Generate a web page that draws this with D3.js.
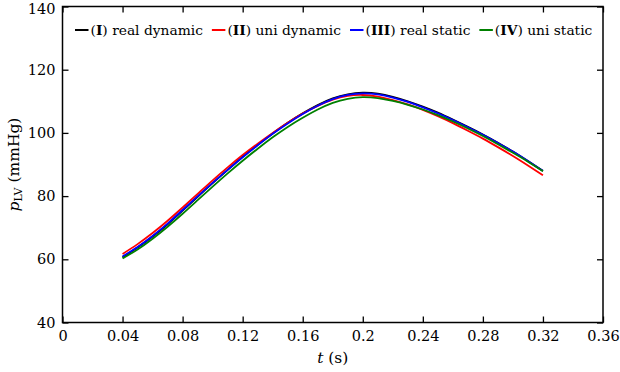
<!DOCTYPE html>
<html>
<head>
<meta charset="utf-8">
<script src="https://cdn.jsdelivr.net/npm/d3@7"></script>
<style>
  body { margin: 0; background: #fff; }
  svg { display: block; }
  text { font-family: "DejaVu Serif", serif; fill: #000; }
</style>
</head>
<body>
<svg id="chart" width="620" height="372"></svg>
<script>
// time samples (s)
const time = [0.04, 0.05, 0.06, 0.07, 0.08, 0.09, 0.10, 0.11, 0.12, 0.13, 0.14, 0.15, 0.16, 0.17, 0.18,
              0.19, 0.20, 0.21, 0.22, 0.23, 0.24, 0.25, 0.26, 0.27, 0.28, 0.29, 0.30, 0.31, 0.32];

// LV pressure (mmHg)
const realDynamic = [60.6, 63.7, 67.2, 71.1, 75.4, 79.8, 84.1, 88.3, 92.4, 96.2, 99.8, 103.2, 106.2, 108.8, 110.9,
                     112.2, 112.7, 112.4, 111.4, 110.0, 108.3, 106.4, 104.2, 101.9, 99.5, 96.9, 94.1, 91.1, 88.0];
const uniDynamic  = [61.7, 64.8, 68.3, 72.2, 76.4, 80.7, 85.0, 89.1, 93.0, 96.6, 100.0, 103.2, 106.1, 108.5, 110.5,
                     111.7, 112.0, 111.5, 110.4, 109.0, 107.3, 105.3, 103.1, 100.7, 98.2, 95.5, 92.7, 89.7, 86.6];
const realStatic  = [60.9, 63.9, 67.4, 71.3, 75.6, 79.9, 84.2, 88.3, 92.3, 96.1, 99.7, 103.0, 106.0, 108.6, 110.7,
                     112.0, 112.5, 112.2, 111.2, 109.8, 108.1, 106.2, 104.1, 101.8, 99.4, 96.8, 94.1, 91.1, 88.0];
const uniStatic   = [60.3, 63.1, 66.5, 70.3, 74.4, 78.7, 83.0, 87.2, 91.2, 95.0, 98.6, 101.9, 104.8, 107.4, 109.5,
                     110.8, 111.3, 111.0, 110.1, 108.9, 107.4, 105.6, 103.6, 101.4, 99.0, 96.4, 93.7, 90.9, 87.9];

const seriesNames = ['I', 'II', 'III', 'IV'];
const seriesLabels = [' real dynamic', ' uni dynamic', ' real static', ' uni static'];
const seriesColors = ['#000000', '#ff0000', '#0000ff', '#008000'];
const seriesValues = [realDynamic, uniDynamic, realStatic, uniStatic];

const xTicks = [0, 0.04, 0.08, 0.12, 0.16, 0.2, 0.24, 0.28, 0.32, 0.36];
const xTickLabels = ['0', '0.04', '0.08', '0.12', '0.16', '0.2', '0.24', '0.28', '0.32', '0.36'];
const yTicks = [40, 60, 80, 100, 120, 140];

const svg = d3.select('#chart');
const margin = { left: 62.5, right: 17, top: 6.5, bottom: 49.5 };
const width = 620 - margin.left - margin.right;
const height = 372 - margin.top - margin.bottom;

const x = d3.scaleLinear().domain([0, 0.36]).range([0, width]);
const y = d3.scaleLinear().domain([40, 140]).range([height, 0]);

const g = svg.append('g').attr('transform', `translate(${margin.left},${margin.top})`);

// axes, ticks pointing inward on all four sides
const tickLen = 6;
const xAxis = g.append('g').attr('transform', `translate(0,${height})`)
    .call(d3.axisBottom(x).tickValues(xTicks).tickFormat((d, i) => xTickLabels[i])
        .tickSizeInner(-tickLen).tickSizeOuter(0).tickPadding(8));
const xTop = g.append('g')
    .call(d3.axisTop(x).tickValues(xTicks).tickFormat('').tickSizeInner(-tickLen).tickSizeOuter(0));
const yAxis = g.append('g')
    .call(d3.axisLeft(y).tickValues(yTicks).tickSizeInner(-tickLen).tickSizeOuter(0).tickPadding(7));
const yRight = g.append('g').attr('transform', `translate(${width},0)`)
    .call(d3.axisRight(y).tickValues(yTicks).tickFormat('').tickSizeInner(-tickLen).tickSizeOuter(0));

[xAxis, xTop, yAxis, yRight].forEach(a => {
    a.select('.domain').remove();
    a.selectAll('.tick line').attr('stroke', '#000').attr('stroke-width', 1.3);
    a.selectAll('text').style('font-family', '"DejaVu Serif", serif').style('font-size', '14.5px').attr('fill', '#000');
});
// keep the top label inside the page
yAxis.selectAll('.tick text').filter(d => d === 140).attr('dy', '0.45em');

// lines
const line = d3.line()
    .x((d, i) => x(time[i]))
    .y(d => y(d))
    .curve(d3.curveNatural);

seriesValues.forEach((vals, k) => {
    g.append('path')
        .datum(vals)
        .attr('fill', 'none')
        .attr('stroke', seriesColors[k])
        .attr('stroke-width', 1.8)
        .attr('d', line);
});

// frame
g.append('rect')
    .attr('width', width).attr('height', height)
    .attr('fill', 'none').attr('stroke', '#000').attr('stroke-width', 1.5);

// legend
const legend = g.append('g').attr('transform', 'translate(0,23.5)');
let lx = 12.5;
seriesNames.forEach((name, k) => {
    legend.append('line')
        .attr('x1', lx).attr('x2', lx + 13.5)
        .attr('y1', 0).attr('y2', 0)
        .attr('stroke', seriesColors[k]).attr('stroke-width', 2);
    const t = legend.append('text')
        .attr('x', lx + 15.5).attr('y', 0).attr('dy', '0.35em')
        .style('font-size', '13.8px');
    t.append('tspan').text('(');
    t.append('tspan').attr('font-weight', 'bold').text(name);
    t.append('tspan').text(')' + seriesLabels[k]);
    lx += 15.5 + t.node().getComputedTextLength() + 9;
});

// axis titles
const xt = svg.append('text')
    .attr('x', margin.left + width / 2).attr('y', 363)
    .attr('text-anchor', 'middle')
    .style('font-size', '15.5px');
xt.append('tspan').attr('font-style', 'italic').text('t');
xt.append('tspan').text(' (s)');

const yt = svg.append('text')
    .attr('transform', `translate(19,${margin.top + height / 2}) rotate(-90)`)
    .attr('text-anchor', 'middle')
    .style('font-size', '15.5px');
yt.append('tspan').attr('font-style', 'italic').text('p');
yt.append('tspan').attr('baseline-shift', '-25%').style('font-size', '11px').text('LV');
yt.append('tspan').attr('baseline-shift', '0%').text(' (mmHg)');
</script>
</body>
</html>
